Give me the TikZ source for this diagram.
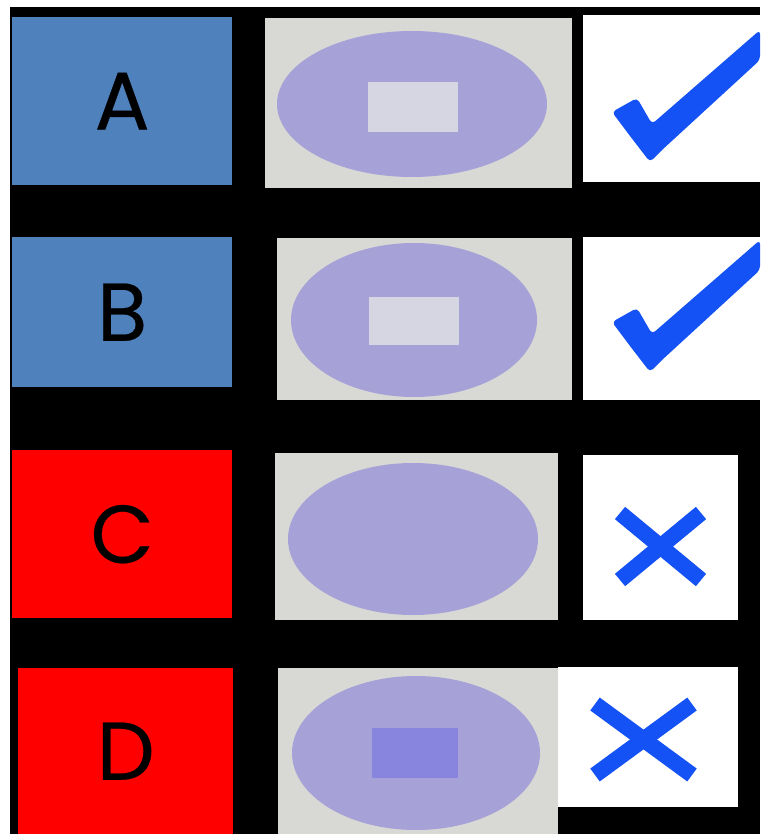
\documentclass[tikz,border=0pt]{standalone}
\usepackage{fontspec}
\setmainfont{Poppins}[FakeBold=0.3]
\usetikzlibrary{shapes.geometric}

\definecolor{tileblue}{RGB}{79,129,189}
\definecolor{tilered}{RGB}{255,0,0}
\definecolor{dishgray}{RGB}{216,216,212}
\definecolor{blobpurple}{RGB}{166,162,216}
\definecolor{holegray}{RGB}{214,214,226}
\definecolor{holepurple}{RGB}{135,133,222}
\definecolor{markblue}{RGB}{20,82,245}

\begin{document}
\begin{tikzpicture}[x=1pt, y=-1pt,
  tile/.style={inner sep=0pt, anchor=north west},
  letter/.style={tile, font=\fontsize{82}{82}\selectfont},
  blob/.style={ellipse, fill=blobpurple, inner sep=0pt},
  hole/.style={inner sep=0pt, minimum width=90pt, minimum height=50pt},
  cross/.style={markblue, line width=16pt},
  tick/.pic={
    \fill[markblue, rounded corners=4pt]
      (-38,-50) -- (-13,-64) -- (2,-38) -- (110,-132) -- (110,-102)
      -- (12,-12) -- (0,0) -- (-20,-26) -- cycle;
  }]
  \useasboundingbox (0,0) rectangle (760,834);
  \fill[black] (10,7) rectangle (760,834);

  % left column
  \node[letter, fill=tileblue, minimum width=220pt, minimum height=168pt] (tA) at (12,17) {A};
  \node[letter, fill=tileblue, minimum width=220pt, minimum height=150pt] (tB) at (12,237) {B};
  \node[letter, fill=tilered, minimum width=220pt, minimum height=168pt] (tC) at (12,450) {C};
  \node[letter, fill=tilered, minimum width=215pt, minimum height=166pt] (tD) at (18,668) {D};

  % middle column
  \node[tile, fill=dishgray, minimum width=307pt, minimum height=170pt] (dA) at (265,18) {};
  \node[tile, fill=dishgray, minimum width=295pt, minimum height=162pt] (dB) at (277,238) {};
  \node[tile, fill=dishgray, minimum width=283pt, minimum height=167pt] (dC) at (275,453) {};
  \node[tile, fill=dishgray, minimum width=280pt, minimum height=166pt] (dD) at (278,668) {};

  \node[blob, minimum width=270pt, minimum height=146pt] (eA) at (412,104) {};
  \node[blob, minimum width=246pt, minimum height=154pt] (eB) at (414,320) {};
  \node[blob, minimum width=250pt, minimum height=152pt] (eC) at (413,539) {};
  \node[blob, minimum width=248pt, minimum height=154pt] (eD) at (416,753) {};

  \node[hole, fill=holegray] (hA) at (413,107) {};
  \node[hole, fill=holegray, minimum height=48pt] (hB) at (414,321) {};
  \node[hole, fill=holepurple, minimum width=86pt] (hD) at (415,753) {};

  % right column
  \node[tile, fill=white, minimum width=177pt, minimum height=167pt] (wA) at (583,15) {};
  \node[tile, fill=white, minimum width=177pt, minimum height=163pt] (wB) at (583,237) {};
  \node[tile, fill=white, minimum width=155pt, minimum height=165pt] (wC) at (583,455) {};
  \node[tile, fill=white, minimum width=180pt, minimum height=140pt] (wD) at (558,667) {};

  \begin{scope}
    \clip (0,0) rectangle (760,834);
    \pic at (650,162) {tick};
    \pic at (650,372) {tick};
  \end{scope}

  \draw[cross] (620,513) -- (701,580);
  \draw[cross] (701,513) -- (620,580);
  \draw[cross] (595,704) -- (692,775);
  \draw[cross] (692,704) -- (595,775);
\end{tikzpicture}
\end{document}
